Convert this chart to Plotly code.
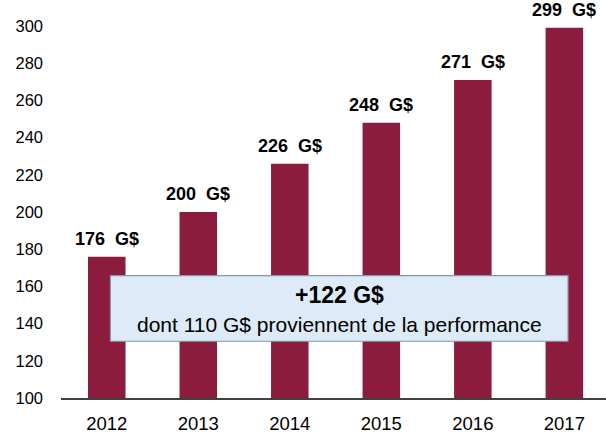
import plotly.graph_objects as go

years = ["2012", "2013", "2014", "2015", "2016", "2017"]
values = [176, 200, 226, 248, 271, 299]
labels = ["176  G$", "200  G$", "226  G$", "248  G$", "271  G$", "299  G$"]
y_ticks = [100, 120, 140, 160, 180, 200, 220, 240, 260, 280, 300]
box_title = "+122 G$"
box_sub = "dont 110 G$ proviennent de la performance"

FONT = "Liberation Sans, Arial, sans-serif"
BAR = "#8C1C3E"

xs = list(range(len(years)))

fig = go.Figure()
fig.add_trace(go.Bar(
    x=xs, y=values,
    marker=dict(color=BAR, line=dict(width=0)),
    base=0,
    hoverinfo="skip",
))

for xi, v, lab in zip(xs, values, labels):
    fig.add_annotation(x=xi, y=v, xref="x", yref="y", text="<b>" + lab + "</b>",
                       showarrow=False, yanchor="bottom", yshift=6,
                       font=dict(family=FONT, size=18, color="#000000"))

fig.add_shape(type="rect", xref="x", yref="y",
              x0=0.04, x1=5.04, y0=130.5, y1=165.8,
              fillcolor="#DDEAF7", line=dict(color="#8497B0", width=1.2),
              layer="above")
fig.add_annotation(x=2.54, y=155.5, xref="x", yref="y", text="<b>" + box_title + "</b>",
                   showarrow=False, font=dict(family=FONT, size=23, color="#000000"))
fig.add_annotation(x=2.54, y=139.3, xref="x", yref="y", text=box_sub,
                   showarrow=False, font=dict(family=FONT, size=21, color="#000000"))

fig.update_layout(
    width=606, height=434,
    margin=dict(l=61, r=0, t=26, b=34),
    paper_bgcolor="white", plot_bgcolor="white",
    showlegend=False,
    bargap=0.59,
    font=dict(family=FONT, size=16, color="#000000"),
    xaxis=dict(
        range=[-0.5, 5.455],
        tickmode="array", tickvals=xs, ticktext=years,
        showgrid=False, zeroline=False,
        showline=True, linecolor="#404040", linewidth=1.5,
        ticks="", ticklabelstandoff=8,
        tickfont=dict(family=FONT, size=18.5, color="#000000"),
    ),
    yaxis=dict(
        range=[100, 300],
        tickmode="array", tickvals=y_ticks,
        showgrid=False, zeroline=False, showline=False,
        ticks="", ticklabelstandoff=17,
        tickfont=dict(family=FONT, size=16.5, color="#000000"),
    ),
)

fig.write_html("out.html")
